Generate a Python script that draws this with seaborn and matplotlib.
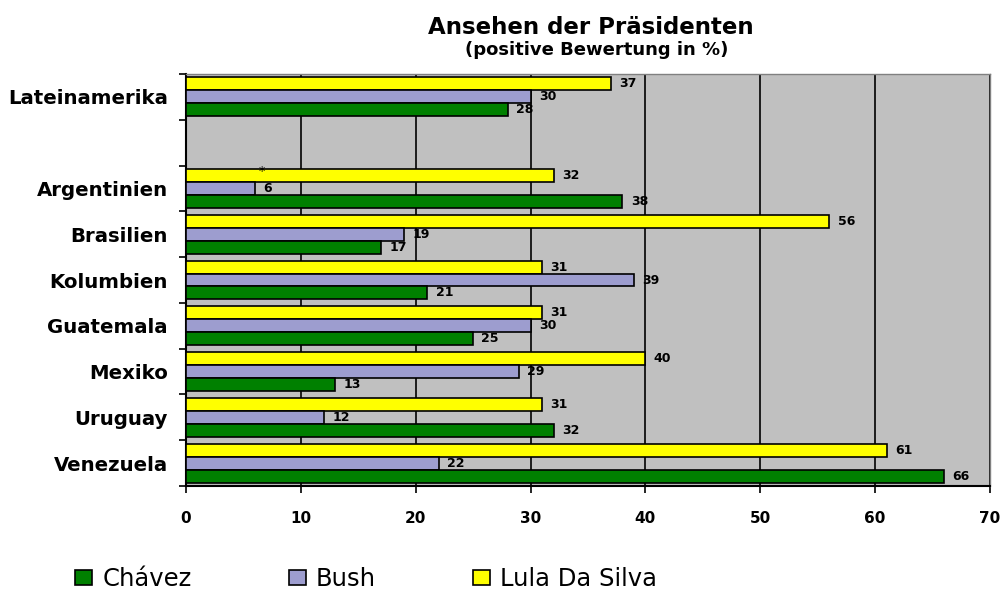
import numpy as np
import pandas as pd
import seaborn as sns
import matplotlib.pyplot as plt
from matplotlib.patches import Patch

# Data (positive rating in %)
countries = ['Lateinamerika', ' ', 'Argentinien', 'Brasilien', 'Kolumbien',
             'Guatemala', 'Mexiko', 'Uruguay', 'Venezuela']
chavez = [28, None, 38, 17, 21, 25, 13, 32, 66]
bush = [30, None, 6, 19, 39, 30, 29, 12, 22]
lula = [37, None, 32, 56, 31, 31, 40, 31, 61]

series_names = ['Chávez', 'Bush', 'Lula Da Silva']
colors = {'Chávez': '#008000', 'Bush': '#9D9DCF', 'Lula Da Silva': '#FFFF00'}

rows = []
for name, vals in zip(series_names, [chavez, bush, lula]):
    for c, v in zip(countries, vals):
        if v is not None:
            rows.append({'land': c, 'praesident': name, 'wert': v})
df = pd.DataFrame(rows)

sns.set_style('white')
plt.rcParams['font.family'] = ['DejaVu Sans']
plt.rcParams['text.color'] = 'black'
plt.rcParams['xtick.color'] = 'black'
plt.rcParams['ytick.color'] = 'black'

fig = plt.figure(figsize=(10.02, 5.90), dpi=100)
ax = fig.add_axes([186 / 1002, 1 - 486 / 590, (990 - 186) / 1002, (486 - 74) / 590])
ax.set_facecolor('#C0C0C0')

hue_order = ['Lula Da Silva', 'Bush', 'Chávez']  # yellow on top in each group
sns.barplot(data=df, y='land', x='wert', hue='praesident', order=countries,
            hue_order=hue_order, palette=colors, orient='h', width=0.85,
            saturation=1, edgecolor='black', linewidth=1.2, ax=ax, legend=False,
            errorbar=None, zorder=3)

# value labels
for cont in ax.containers:
    ax.bar_label(cont, fmt='%d', padding=6, fontsize=9, fontweight='bold', zorder=4)
ax.text(6.6, 2 - 0.36, '*', fontsize=9, ha='center', va='center', zorder=5)

ax.set_xlim(0, 70)
ax.set_ylim(len(countries) - 0.5, -0.5)
ax.set_xticks(np.arange(0, 71, 10))
ax.tick_params(axis='x', bottom=True, direction='out', length=5, width=1.2,
               pad=13, labelsize=11)
for lbl in ax.get_xticklabels():
    lbl.set_fontweight('bold')

ax.set_yticks(range(len(countries)))
ax.set_yticklabels(countries, fontsize=14.2, fontweight='bold')
ax.set_yticks(np.arange(-0.5, len(countries)), minor=True)
ax.tick_params(axis='y', which='major', left=True, length=0, pad=13)
ax.tick_params(axis='y', which='minor', left=True, direction='out', length=5, width=1.2)
ax.set_xlabel('')
ax.set_ylabel('')

ax.xaxis.grid(True, color='black', linewidth=1.2, zorder=1)
ax.set_axisbelow(True)
for side in ['left', 'bottom']:
    ax.spines[side].set_color('black')
    ax.spines[side].set_linewidth(1.5)
for side in ['top', 'right']:
    ax.spines[side].set_color('#808080')
    ax.spines[side].set_linewidth(1)

fig.text(591 / 1002, 1 - 27 / 590, 'Ansehen der Präsidenten', ha='center', va='center',
         fontsize=16.5, fontweight='bold')
fig.text(597 / 1002, 1 - 50 / 590, '(positive Bewertung in %)', ha='center', va='center',
         fontsize=13, fontweight='bold')

handles = [Patch(facecolor=colors[n], edgecolor='black', linewidth=1.2) for n in series_names]
fig.legend(handles, series_names, loc='center left', bbox_to_anchor=(75 / 1002, 1 - 579 / 590),
           ncol=3, frameon=False, borderpad=0, borderaxespad=0, handlelength=0.7,
           handleheight=0.62, handletextpad=0.42, columnspacing=4.0,
           prop={'family': 'DejaVu Sans', 'size': 17.5})

fig.savefig('out.png', dpi=100)
